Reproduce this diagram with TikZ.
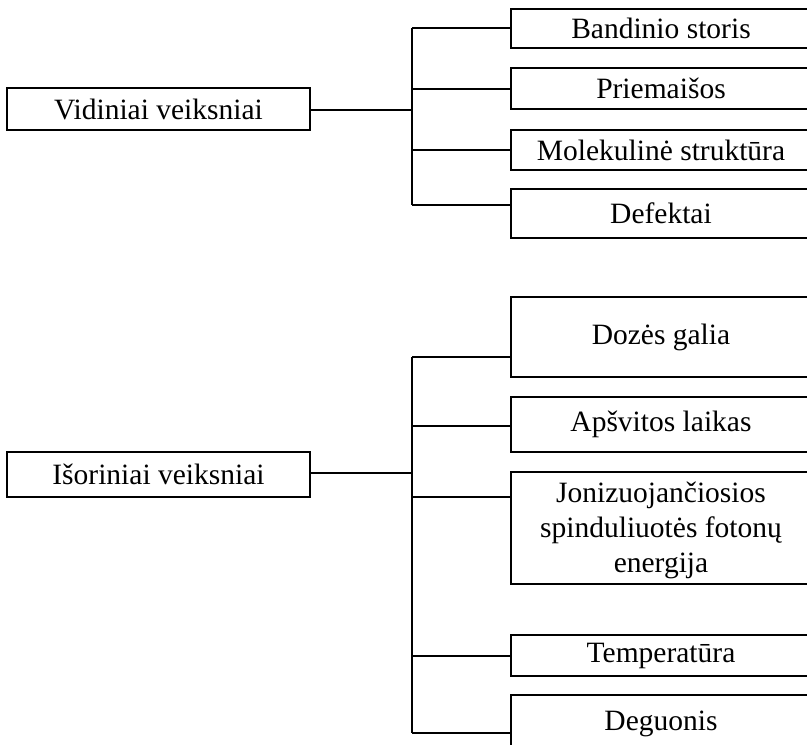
\documentclass[tikz,border=0pt]{standalone}
\usepackage{fontspec}
\setmainfont{Liberation Serif}
\begin{document}
\begin{tikzpicture}[x=1pt,y=-1pt,
  box/.style={draw, line width=2.6pt, inner sep=0pt, minimum width=#1, align=center,
    font=\fontsize{29.5}{35}\selectfont},
  box/.default=303pt,
  rbox/.style={box=300pt},
  conn/.style={line width=1.9pt}]
\useasboundingbox (0,0) rectangle (807,745);
\clip (0,0) rectangle (807,745);

% left boxes
\node[box, minimum height=42pt] (vid) at (158.5,109) {Vidiniai veiksniai};
\node[box, minimum height=45pt] (iso) at (158.5,474.5) {Išoriniai veiksniai};

% right boxes, upper group
\node[rbox, minimum height=39pt] (b1) at (661,28.5) {Bandinio storis};
\node[rbox, minimum height=41pt] (b2) at (661,88.5) {Priemaišos};
\node[rbox, minimum height=40pt] (b3) at (661,150) {Molekulinė struktūra};
\node[rbox, minimum height=49pt] (b4) at (661,213.5) {Defektai};

% right boxes, lower group
\node[rbox, minimum height=80pt] (c1) at (661,337) {Dozės galia};
\node[rbox, minimum height=55pt] (c2) at (661,424.5) {Apšvitos laikas};
\node[rbox, minimum height=112pt] (c3) at (661,528) {\rule{0pt}{26pt}Jonizuojančiosios\\spinduliuotės fotonų\\energija};
\node[rbox, minimum height=41pt] (c4) at (661,655.5) {Temperatūra};
\node[rbox, minimum height=57pt] (c5) at (661,723.5) {Deguonis};

% junction points, upper trunk
\coordinate (ua) at (412,28);
\coordinate (ub) at (412,89);
\coordinate (uc) at (412,150);
\coordinate (ud) at (412,205);
\coordinate (um) at (412,110);
% junction points, lower trunk
\coordinate (la) at (412,357);
\coordinate (lb) at (412,426);
\coordinate (lc) at (412,497);
\coordinate (ld) at (412,656);
\coordinate (le) at (412,733);
\coordinate (lm) at (412,473);

% upper connectors
\draw[conn] (vid.east |- um) -- (um);
\draw[conn] (ua) -- (ud);
\draw[conn] (ua) -- (ua -| b1.west);
\draw[conn] (ub) -- (ub -| b2.west);
\draw[conn] (uc) -- (uc -| b3.west);
\draw[conn] (ud) -- (ud -| b4.west);

% lower connectors
\draw[conn] (iso.east |- lm) -- (lm);
\draw[conn] (la) -- (le);
\draw[conn] (la) -- (la -| c1.west);
\draw[conn] (lb) -- (lb -| c2.west);
\draw[conn] (lc) -- (lc -| c3.west);
\draw[conn] (ld) -- (ld -| c4.west);
\draw[conn] (le) -- (le -| c5.west);
\end{tikzpicture}
\end{document}
